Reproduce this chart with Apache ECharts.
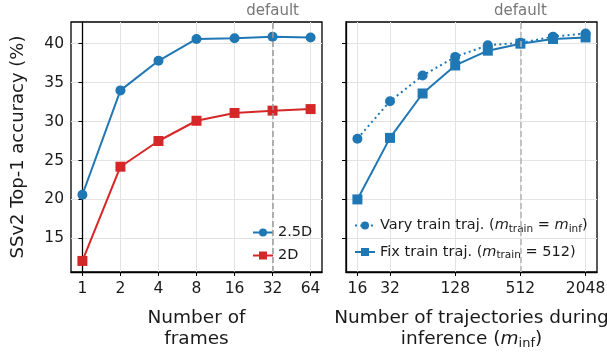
<!DOCTYPE html>
<html><head><meta charset="utf-8">
<script src="https://cdn.jsdelivr.net/npm/echarts@6/dist/echarts.min.js"></script>
<style>html,body{margin:0;padding:0;background:#fff}#c{width:607px;height:353px}</style>
</head><body><div id="c"></div>
<script>
// ---- data ----
const frames = [1, 2, 4, 8, 16, 32, 64];
const acc25D = [20.6, 34.0, 37.8, 40.6, 40.7, 40.9, 40.8];
const acc2D = [12.1, 24.2, 27.5, 30.1, 31.1, 31.4, 31.6];
const trajs = [16, 32, 64, 128, 256, 512, 1024, 2048];
const accVary = [27.8, 32.6, 35.9, 38.3, 39.8, 40.1, 40.9, 41.3];
const accFix = [20.0, 27.9, 33.6, 37.2, 39.1, 40.0, 40.6, 40.8];
const frameTicks = [1, 2, 4, 8, 16, 32, 64];
const trajTicks = [16, 32, 128, 512, 2048];
const yTicks = [15, 20, 25, 30, 35, 40];
const defaultFrames = 32;
const defaultTrajs = 512;

const FONT = 'DejaVu Sans';
const TXT = '#1a1a1a';
const blue = '#1f77b4', red = '#d62728';
const l2 = v => Math.log2(v);
const pairs = (xs, ys) => xs.map((x, i) => [l2(x), ys[i]]);

const yMin = 10.68, yMax = 42.78;

const nameRich = {
  m: {fontStyle: 'italic', fontSize: 18.5, fontFamily: FONT, color: TXT},
  s: {fontSize: 13, fontFamily: FONT, color: TXT, verticalAlign: 'bottom', lineHeight: 21},
};

function xAxisCommon(ticks, min, max, name) {
  return {
    type: 'value', min: min, max: max,
    axisLine: {show: true, onZero: false, lineStyle: {color: '#000', width: 1.3}},
    axisTick: {show: true, length: 4, lineStyle: {color: '#000', width: 1}, customValues: ticks.map(l2)},
    axisLabel: {customValues: ticks.map(l2), color: TXT, fontSize: 15.5, fontFamily: FONT, margin: 9,
      formatter: v => String(Math.round(Math.pow(2, v)))},
    splitLine: {show: true, lineStyle: {color: '#e3e3e3', width: 1}},
    name: name, nameLocation: 'middle', nameGap: 36,
    nameTextStyle: {fontSize: 18.5, fontFamily: FONT, color: TXT, lineHeight: 21, verticalAlign: 'top', rich: nameRich}
  };
}
function yAxisCommon(gi, showLabel) {
  return {
    type: 'value', gridIndex: gi, min: yMin, max: yMax,
    axisLine: {show: true, lineStyle: {color: '#000', width: 1.3}},
    axisTick: {show: true, length: 4, lineStyle: {color: '#000', width: 1}, customValues: yTicks},
    axisLabel: {show: showLabel, customValues: yTicks, color: TXT, fontSize: 15.5, fontFamily: FONT, margin: 7},
    splitLine: {show: true, lineStyle: {color: '#e3e3e3', width: 1}},
  };
}
function defaultLine(x, col) {
  return {
    silent: true, symbol: 'none',
    lineStyle: {color: col, type: [6, 3], width: 1.5},
    label: {show: true, position: 'end', formatter: 'default', color: '#777', fontSize: 15, fontFamily: FONT, distance: 3},
    data: [{xAxis: l2(x)}]
  };
}
const subRich = {
  m: {fontStyle: 'italic', fontSize: 14.5, fontFamily: FONT, color: TXT},
  s: {fontSize: 10.5, fontFamily: FONT, color: TXT, verticalAlign: 'bottom', lineHeight: 18},
  t: {fontSize: 14.5, fontFamily: FONT, color: TXT}
};

const x0 = xAxisCommon(frameTicks, -0.3, 6.3, 'Number of\nframes');
x0.gridIndex = 0;
const x1 = xAxisCommon(trajTicks, 3.65, 11.35, 'Number of trajectories during\ninference ({m|m}{s|inf})');
x1.gridIndex = 1;
const y0 = yAxisCommon(0, true);
y0.name = 'SSv2 Top-1 accuracy (%)';
y0.nameLocation = 'middle';
y0.nameGap = 44;
y0.nameTextStyle = {fontSize: 18, fontFamily: FONT, color: TXT};
const y1 = yAxisCommon(1, false);

const chart = echarts.init(document.getElementById('c'), null, {renderer: 'canvas'});
chart.setOption({
  animation: false,
  backgroundColor: '#fff',
  textStyle: {fontFamily: FONT},
  grid: [
    {left: 71, right: 285, top: 22, bottom: 81, show: true, borderColor: '#000', borderWidth: 1.3,
     backgroundColor: 'transparent', containLabel: false, outerBoundsMode: 'none'},
    {left: 346, right: 10, top: 22, bottom: 81, show: true, borderColor: '#000', borderWidth: 1.3,
     backgroundColor: 'transparent', containLabel: false, outerBoundsMode: 'none'}
  ],
  xAxis: [x0, x1],
  yAxis: [y0, y1],
  legend: [
    {orient: 'vertical', left: 252, top: 225, padding: 0, itemWidth: 20, itemHeight: 10, itemGap: 8,
     textStyle: {fontSize: 14.5, fontFamily: FONT, color: TXT}, data: ['2.5D', '2D'], selectedMode: false},
    {orient: 'vertical', left: 354, top: 218, padding: 0, itemWidth: 20, itemHeight: 10, itemGap: 10,
     textStyle: {fontSize: 14.5, fontFamily: FONT, color: TXT, rich: subRich},
     data: ['vary', 'fix'], selectedMode: false,
     formatter: n => n === 'vary'
        ? '{t|Vary train traj. (}{m|m}{s|train}{t| = }{m|m}{s|inf}{t|)}'
        : '{t|Fix train traj. (}{m|m}{s|train}{t| = 512)}'}
  ],
  series: [
    {name: '2.5D', type: 'line', xAxisIndex: 0, yAxisIndex: 0, data: pairs(frames, acc25D),
     symbol: 'circle', symbolSize: 10, itemStyle: {color: blue}, lineStyle: {color: blue, width: 2},
     markLine: defaultLine(defaultFrames, '#999'), z: 3},
    {name: '2D', type: 'line', xAxisIndex: 0, yAxisIndex: 0, data: pairs(frames, acc2D),
     symbol: 'rect', symbolSize: 10, itemStyle: {color: red}, lineStyle: {color: red, width: 2}, z: 3},
    {name: 'vary', type: 'line', xAxisIndex: 1, yAxisIndex: 1, data: pairs(trajs, accVary),
     symbol: 'circle', symbolSize: 10, itemStyle: {color: blue}, lineStyle: {color: blue, width: 2, type: [2, 3.3]},
     markLine: defaultLine(defaultTrajs, '#b5b5b5'), z: 3},
    {name: 'fix', type: 'line', xAxisIndex: 1, yAxisIndex: 1, data: pairs(trajs, accFix),
     symbol: 'rect', symbolSize: 10, itemStyle: {color: blue}, lineStyle: {color: blue, width: 2}, z: 3}
  ]
});
</script></body></html>
